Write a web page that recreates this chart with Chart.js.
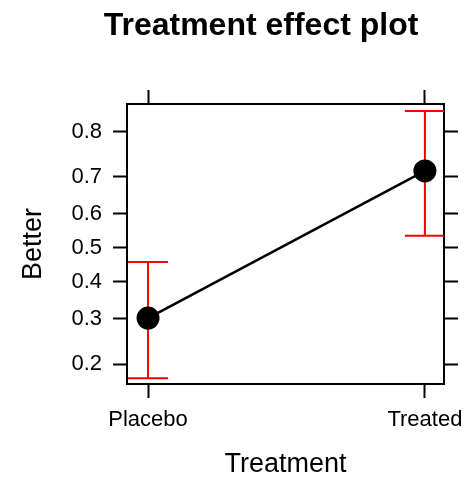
<!DOCTYPE html>
<html>
<head>
<meta charset="utf-8">
<title>Treatment effect plot</title>
<script src="https://cdn.jsdelivr.net/npm/chart.js@4.4.1/dist/chart.umd.min.js"></script>
<style>
  html, body { margin: 0; padding: 0; background: #fff; }
  #wrap { width: 469px; height: 478px; }
</style>
</head>
<body>
<div id="wrap"><canvas id="effectChart" width="469" height="478"></canvas></div>
<script>
// Effect plot values (probability scale)
const categories = ['Placebo', 'Treated'];
const fitValues = [0.302, 0.715];
const lowerValues = [0.174, 0.536];
const upperValues = [0.458, 0.837];
const yTickValues = [0.2, 0.3, 0.4, 0.5, 0.6, 0.7, 0.8];
const yTickLabels = ['0.2', '0.3', '0.4', '0.5', '0.6', '0.7', '0.8'];
const yLimits = [0.1645, 0.848];
const xLimits = [-0.076, 1.069];

const FONT = '"Liberation Sans", Arial, Helvetica, sans-serif';
const logit = p => Math.log(p / (1 - p));

Chart.defaults.color = '#000';
Chart.defaults.font.family = FONT;

// ── Plugins ───────────────────────────────────────────────────────
const plotTitle = {
    id: 'plotTitle',
    afterDraw(chart, args, opts) {
        const ctx = chart.ctx;
        ctx.save();
        ctx.font = `bold ${opts.size}px ${FONT}`;
        ctx.fillStyle = '#000';
        ctx.textAlign = 'center';
        ctx.textBaseline = 'alphabetic';
        ctx.fillText(opts.text, opts.x, opts.y);
        ctx.restore();
    }
};

const errorBars = {
    id: 'errorBars',
    beforeDatasetsDraw(chart, args, opts) {
        const { ctx, chartArea, scales: { x, y } } = chart;
        ctx.save();
        ctx.beginPath();
        ctx.rect(chartArea.left, chartArea.top, chartArea.width, chartArea.height);
        ctx.clip();
        ctx.strokeStyle = opts.color;
        ctx.lineWidth = opts.width;
        categories.forEach((c, i) => {
            const px = x.getPixelForValue(i);
            const lo = y.getPixelForValue(logit(lowerValues[i]));
            const hi = y.getPixelForValue(logit(upperValues[i]));
            ctx.beginPath();
            ctx.moveTo(px, lo); ctx.lineTo(px, hi);
            ctx.moveTo(px - opts.cap, lo); ctx.lineTo(px + opts.cap, lo);
            ctx.moveTo(px - opts.cap, hi); ctx.lineTo(px + opts.cap, hi);
            ctx.stroke();
        });
        ctx.restore();
    }
};

// ── Axes ──────────────────────────────────────────────────────────
const tickGrid = { drawOnChartArea: false, drawTicks: true, tickLength: 14, tickWidth: 2, tickColor: '#000' };
const boxBorder = { display: true, color: '#000', width: 2 };
const setYTicks = axis => { axis.ticks = yTickValues.map(p => ({ value: logit(p) })); };
const setXTicks = axis => { axis.ticks = categories.map((c, i) => ({ value: i })); };
// fixed box sizes; labels may overhang without shrinking the plot
const fixHeight = h => axis => { axis.height = h; axis.paddingLeft = 0; axis.paddingRight = 0; };
const fixWidth = w => axis => { axis.width = w; axis.paddingTop = 0; axis.paddingBottom = 0; };

new Chart(document.getElementById('effectChart'), {
    type: 'line',
    data: {
        datasets: [{
            data: categories.map((c, i) => ({ x: i, y: logit(fitValues[i]) })),
            borderColor: '#000',
            borderWidth: 2.5,
            pointRadius: 11.5,
            pointBackgroundColor: '#000',
            pointBorderWidth: 0,
            tension: 0
        }]
    },
    options: {
        responsive: false,
        animation: false,
        layout: { padding: { top: 60, left: 0, right: 0, bottom: 0 } },
        plugins: {
            legend: { display: false },
            tooltip: { enabled: false },
            plotTitle: { text: 'Treatment effect plot', size: 32, x: 261, y: 35 },
            errorBars: { color: '#ff0000', width: 2, cap: 20 }
        },
        scales: {
            x: {
                type: 'linear', position: 'bottom',
                min: xLimits[0], max: xLimits[1],
                afterBuildTicks: setXTicks,
                afterFit: fixHeight(94),
                grid: tickGrid, border: boxBorder,
                ticks: { padding: 9, font: { size: 22 }, maxRotation: 0,
                         callback: v => categories[v] },
                title: { display: true, text: 'Treatment', font: { size: 27, lineHeight: 1 },
                         padding: { top: 0, bottom: 0 } }
            },
            x2: {
                type: 'linear', position: 'top',
                min: xLimits[0], max: xLimits[1],
                afterBuildTicks: setXTicks,
                afterFit: fixHeight(44),
                grid: tickGrid, border: boxBorder,
                ticks: { display: false }
            },
            y: {
                type: 'linear', position: 'left',
                min: logit(yLimits[0]), max: logit(yLimits[1]),
                afterBuildTicks: setYTicks,
                afterFit: fixWidth(127),
                grid: tickGrid, border: boxBorder,
                ticks: { padding: 11, font: { size: 22 },
                         callback: (v, i) => yTickLabels[i] },
                title: { display: true, text: 'Better', font: { size: 27, lineHeight: 1 },
                         padding: { top: 20, bottom: 0 } }
            },
            y2: {
                type: 'linear', position: 'right',
                min: logit(yLimits[0]), max: logit(yLimits[1]),
                afterBuildTicks: setYTicks,
                afterFit: fixWidth(25),
                grid: tickGrid, border: boxBorder,
                ticks: { display: false }
            }
        }
    },
    plugins: [plotTitle, errorBars]
});
</script>
</body>
</html>
